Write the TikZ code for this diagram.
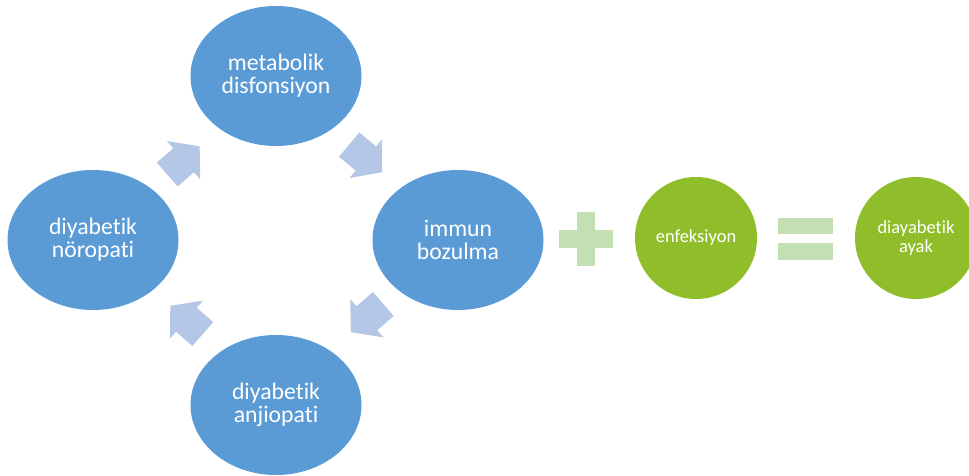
\documentclass[tikz,border=0pt]{standalone}
\usepackage{fontspec}
\setmainfont{Carlito}[Ligatures=NoCommon]
\usepackage{xcolor}
\usetikzlibrary{shapes.geometric, shapes.arrows, positioning}

\definecolor{cikisMavi}{HTML}{5B9BD5}
\definecolor{okMavi}{HTML}{B4C7E7}
\definecolor{sonYesil}{HTML}{90BE2A}
\definecolor{isaretYesil}{HTML}{C5DFB4}

\begin{document}
\begin{tikzpicture}[
    halka/.style={ellipse,fill=cikisMavi,minimum width=3.42cm,minimum height=2.8cm,text=white,align=center,inner sep=0pt,font=\fontsize{13.5}{13}\selectfont},
    sonuc/.style={circle,fill=sonYesil,minimum size=2.44cm,text=white,align=center,inner sep=0pt,font=\fontsize{10.5}{11}\selectfont},
    blokok/.style={single arrow,fill=okMavi,anchor=tip,inner xsep=0pt,inner ysep=0.31cm,minimum height=0.86cm,single arrow head extend=0.19cm,single arrow tip angle=100},
    cubuk/.style={rectangle,fill=isaretYesil,inner sep=0pt}
]
    \clip (0,0) rectangle (19.38,9.5);
    \useasboundingbox (0,0) rectangle (19.38,9.5);

    % Dongu halkalari
    \node[halka] (metabolik) at (5.52,7.98) {metabolik\\disfonsiyon};
    \node[halka] (immun) at (9.16,4.70) {immun\\bozulma};
    \node[halka] (anjiopati) at (5.52,1.40) {diyabetik\\anjiopati};
    \node[halka] (noropati) at (1.86,4.70) {diyabetik\\nöropati};

    % Aradaki oklar
    \node[blokok,rotate=41] (ok1) at (4.00,6.58) {};
    \node[blokok,rotate=-40] (ok2) at (7.65,6.05) {};
    \node[blokok,rotate=-139] (ok3) at (7.01,2.85) {};
    \node[blokok,rotate=139] (ok4) at (3.40,3.39) {};

    % Arti isareti
    \node[cubuk,minimum width=1.08cm,minimum height=0.36cm] (artiYatay) at (11.72,4.72) {};
    \node[cubuk,minimum width=0.36cm,minimum height=1.08cm] (artiDikey) at (11.72,4.72) {};

    % Enfeksiyon
    \node[sonuc] (enfeksiyon) at (13.92,4.74) {enfeksiyon};

    % Esittir isareti
    \node[cubuk,minimum width=1.1cm,minimum height=0.33cm] (esitUst) at (16.11,4.98) {};
    \node[cubuk,minimum width=1.1cm,minimum height=0.33cm] (esitAlt) at (16.11,4.47) {};

    % Sonuc
    \node[sonuc] (ayak) at (18.32,4.74) {diayabetik\\ayak};
\end{tikzpicture}
\end{document}
